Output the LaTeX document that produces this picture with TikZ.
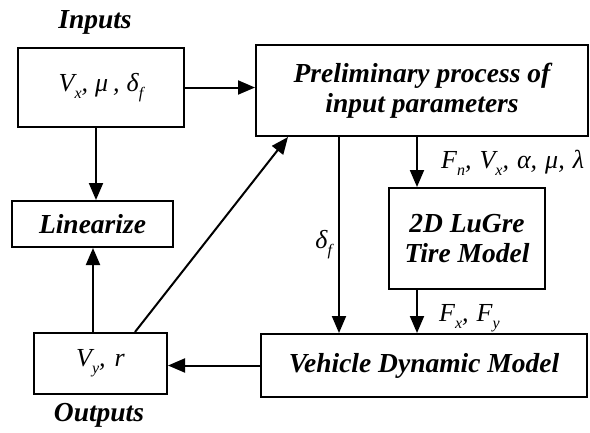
\documentclass[tikz,border=0pt]{standalone}
\usepackage{fontspec}
\setmainfont{Liberation Serif}
\usetikzlibrary{arrows.meta}
\newcommand{\sbx}[1]{\raisebox{-0.6ex}{\fontsize{16}{16}\selectfont\itshape #1}}
\newcommand{\cm}{,\hspace{8pt}}
\begin{document}
\begin{tikzpicture}[x=1pt,y=-1pt,
  box/.style={draw,line width=2pt,inner sep=0pt,align=center,font=\fontsize{27.5}{30}\selectfont\bfseries\itshape},
  mbox/.style={draw,line width=2pt,inner sep=0pt,align=center,font=\fontsize{26}{28}\selectfont\itshape},
  conn/.style={line width=2pt,-{Triangle[length=17pt,width=14pt]}},
  lbl/.style={font=\fontsize{27.5}{30}\selectfont\bfseries\itshape},
  mlbl/.style={font=\fontsize{26}{28}\selectfont\itshape,inner sep=0pt}]
\useasboundingbox (0,0) rectangle (590,432);
\node[mbox,minimum width=166pt,minimum height=79pt] (in) at (101,87.5) {V\sbx{x},\hspace{7pt}μ\hspace{5pt},\hspace{7pt}δ\sbx{f}};
\node[box,minimum width=332pt,minimum height=91pt] (pre) at (422,90.5) {Preliminary process of\\input parameters};
\node[box,minimum width=161pt,minimum height=46pt] (lin) at (92.5,224) {Linearize};
\node[mbox,minimum width=133pt,minimum height=61pt] (out) at (100.5,363.5) {V\sbx{y},\hspace{9pt}r};
\node[box,minimum width=156pt,minimum height=101pt] (lug) at (467,238.5) {2D LuGre\\Tire Model};
\node[box,minimum width=326pt,minimum height=63pt] (veh) at (424,365.5) {Vehicle Dynamic Model};
\node[lbl] (inlbl) at (95,22) {Inputs};
\node[lbl] (outlbl) at (99,415) {Outputs};

\draw[conn] (in.east) -- (in.east -| pre.west);
\draw[conn] ([xshift=-5pt]in.south) -- ([xshift=-5pt]in.south |- lin.north);
\draw[conn] ([xshift=-7.5pt]out.north) -- ([xshift=-7.5pt]out.north |- lin.south);
\draw[conn] ([xshift=34.5pt]out.north) -- ([xshift=-134pt]pre.south);
\draw[conn] ([xshift=-83pt]pre.south) -- node[mlbl,left=6pt,pos=0.55] (dlbl) {δ\sbx{f}} ([xshift=-83pt]pre.south |- veh.north);
\draw[conn] ([xshift=-50pt]lug.north |- pre.south) -- ([xshift=-50pt]lug.north);
\node[mlbl,anchor=west] (flbl) at (441,163) {F\sbx{n}\cm V\sbx{x}\cm α\cm μ\cm λ};
\draw[conn] ([xshift=-50pt]lug.south) -- ([xshift=-50pt]lug.south |- veh.north);
\node[mlbl,anchor=west] (fxlbl) at (439,318) {F\sbx{x}\cm F\sbx{y}};
\draw[conn] (veh.west) -- (veh.west -| out.east);
\end{tikzpicture}
\end{document}
